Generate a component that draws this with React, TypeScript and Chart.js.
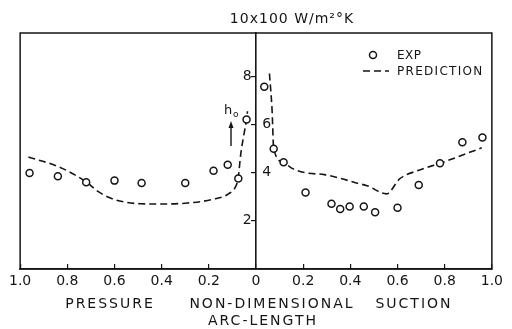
import React, { useEffect, useRef } from 'react';
import { Chart, registerables } from 'chart.js';

Chart.register(...registerables);

// Experimental points (negative x = pressure side, positive x = suction side)
const expX = [-0.96, -0.84, -0.72, -0.60, -0.485, -0.30, -0.18, -0.12, -0.075, -0.04,
  0.035, 0.075, 0.117, 0.21, 0.32, 0.357, 0.397, 0.457, 0.505, 0.60, 0.69, 0.78, 0.875, 0.96];
const expY = [3.99, 3.85, 3.60, 3.67, 3.57, 3.57, 4.08, 4.33, 3.76, 6.21,
  7.57, 4.99, 4.43, 3.18, 2.71, 2.49, 2.60, 2.60, 2.36, 2.54, 3.49, 4.39, 5.26, 5.46];

// Prediction, pressure side
const predPressureX = [-0.965, -0.84, -0.77, -0.72, -0.67, -0.61, -0.555, -0.49, -0.40, -0.29, -0.18, -0.115, -0.085, -0.076, -0.064, -0.05, -0.04, -0.036];
const predPressureY = [4.65, 4.26, 3.92, 3.62, 3.22, 2.92, 2.78, 2.71, 2.70, 2.74, 2.90, 3.13, 3.45, 3.76, 4.82, 5.65, 6.21, 6.55];

// Prediction, suction side
const predSuctionX = [0.057, 0.068, 0.075, 0.117, 0.151, 0.214, 0.29, 0.36, 0.43, 0.471, 0.553, 0.61, 0.69, 0.78, 0.957];
const predSuctionY = [8.12, 6.62, 4.99, 4.43, 4.19, 3.99, 3.92, 3.76, 3.56, 3.46, 3.12, 3.75, 4.10, 4.39, 5.03];

const yLabelsLeft = [8, 2];
const yLabelsRight = [6, 4];
const unitLabel = '10x100 W/m²°K';
const sideLabels = ['PRESSURE', 'NON-DIMENSIONAL', 'SUCTION'];
const axisLabelLine2 = 'ARC-LENGTH';
const legendLabels = ['EXP', 'PREDICTION'];
const annotationLabel = ['h', 'o'];

const INK = '#151515';
const FONT = "'DejaVu Sans', 'Liberation Sans', sans-serif";

const decorPlugin = {
  id: 'decor',
  afterDraw(chart: any) {
    const { ctx, chartArea: a, scales } = chart;
    const x0 = scales.x.getPixelForValue(0);
    ctx.save();
    ctx.strokeStyle = INK;
    ctx.fillStyle = INK;
    ctx.lineWidth = 1.5;
    ctx.setLineDash([]);
    ctx.strokeRect(a.left, a.top, a.right - a.left, a.bottom - a.top);

    ctx.textBaseline = 'middle';
    // unit label on top
    ctx.font = `14px ${FONT}`;
    (ctx as any).letterSpacing = '1px';
    ctx.textAlign = 'center';
    ctx.fillText(unitLabel, x0 + 36, 19);

    // bottom labels
    (ctx as any).letterSpacing = '2px';
    ctx.font = `14px ${FONT}`;
    ctx.fillText(sideLabels[0], 110, 304);
    ctx.fillText(sideLabels[1], x0 + 16, 304);
    ctx.fillText(sideLabels[2], 414, 304);
    ctx.fillText(axisLabelLine2, x0 + 7, 321);

    // legend
    const exp = chart.data.datasets[0];
    const pred = chart.data.datasets[1];
    ctx.textAlign = 'left';
    ctx.font = `12px ${FONT}`;
    (ctx as any).letterSpacing = '0.5px';
    ctx.beginPath();
    ctx.lineWidth = exp.pointBorderWidth;
    ctx.strokeStyle = exp.borderColor;
    ctx.arc(373, 55, exp.pointRadius, 0, Math.PI * 2);
    ctx.stroke();
    ctx.fillText(legendLabels[0], 397, 56);
    ctx.beginPath();
    ctx.lineWidth = pred.borderWidth;
    ctx.setLineDash(pred.borderDash);
    ctx.moveTo(363, 71);
    ctx.lineTo(389, 71);
    ctx.stroke();
    ctx.setLineDash([]);
    (ctx as any).letterSpacing = '1.3px';
    ctx.fillText(legendLabels[1], 397, 72);

    // h0 annotation with arrow
    (ctx as any).letterSpacing = '0px';
    ctx.font = `13px ${FONT}`;
    ctx.fillText(annotationLabel[0], 224, 111);
    ctx.font = `9px ${FONT}`;
    ctx.fillText(annotationLabel[1], 233, 115);
    ctx.lineWidth = 1.4;
    ctx.beginPath();
    ctx.moveTo(231, 146);
    ctx.lineTo(231, 126);
    ctx.stroke();
    ctx.beginPath();
    ctx.moveTo(231, 121);
    ctx.lineTo(228.5, 128);
    ctx.lineTo(233.5, 128);
    ctx.closePath();
    ctx.fill();
    ctx.restore();
  },
};

function fmtX(v: number) {
  const a = Math.abs(v);
  if (a < 1e-9) return '0';
  return a.toFixed(1);
}

export default function App() {
  const ref = useRef<HTMLCanvasElement | null>(null);
  useEffect(() => {
    if (!ref.current) return;
    Chart.defaults.font.family = FONT;
    Chart.defaults.color = INK;
    const lineStyle = {
      type: 'line' as const,
      showLine: true,
      pointRadius: 0,
      borderColor: INK,
      borderWidth: 1.6,
      borderDash: [7, 4],
      fill: false,
      cubicInterpolationMode: 'monotone' as const,
      order: 2,
    };
    const chart = new Chart(ref.current, {
      type: 'scatter',
      data: {
        datasets: [
          {
            label: legendLabels[0],
            data: expX.map((x, i) => ({ x, y: expY[i] })),
            showLine: false,
            pointStyle: 'circle',
            pointRadius: 3.5,
            pointBorderWidth: 1.5,
            borderColor: INK,
            pointBackgroundColor: '#ffffff',
            backgroundColor: '#ffffff',
            order: 0,
          } as any,
          {
            ...lineStyle,
            label: legendLabels[1],
            data: predPressureX.map((x, i) => ({ x, y: predPressureY[i] })),
          } as any,
          {
            ...lineStyle,
            label: legendLabels[1] + ' (suction)',
            data: predSuctionX.map((x, i) => ({ x, y: predSuctionY[i] })),
          } as any,
        ],
      },
      options: {
        animation: false,
        responsive: false,
        layout: { padding: { left: 17, right: 15, top: 33, bottom: 0 } },
        plugins: { legend: { display: false }, tooltip: { enabled: false } },
        scales: {
          x: {
            type: 'linear',
            position: 'bottom',
            min: -1,
            max: 1,
            afterFit: (s: any) => { s.height = 60; },
            ticks: {
              stepSize: 0.2,
              includeBounds: false,
              padding: 9,
              maxRotation: 0,
              autoSkip: false,
              font: { size: 14 },
              color: INK,
              callback: (v: any) => fmtX(Number(v)),
            },
            grid: { drawOnChartArea: false, drawTicks: true, tickLength: -5, color: INK, lineWidth: 1.2 },
            border: { display: true, color: INK, width: 1.5 },
          },
          y: {
            type: 'linear',
            position: { x: 0 } as any,
            min: 0,
            max: 9.8,
            afterFit: (s: any) => { s.width = 0; },
            ticks: {
              stepSize: 2,
              includeBounds: false,
              font: { size: 14 },
              color: INK,
              callback: (v: any) => (yLabelsLeft.includes(Number(v)) ? String(v) + ' ' : ''),
            },
            grid: { drawOnChartArea: false, drawTicks: true, tickLength: 4, color: INK, lineWidth: 1.2 },
            border: { display: true, color: INK, width: 1.6 },
          },
          y2: {
            type: 'linear',
            axis: 'y',
            position: { x: 0.064 } as any,
            min: 0,
            max: 9.8,
            afterFit: (s: any) => { s.width = 0; },
            ticks: {
              stepSize: 2,
              includeBounds: false,
              font: { size: 14 },
              color: INK,
              callback: (v: any) => (yLabelsRight.includes(Number(v)) ? String(v) : ''),
            },
            grid: { display: false },
            border: { display: false },
          },
        } as any,
      },
      plugins: [decorPlugin],
    });
    return () => chart.destroy();
  }, []);
  return (
    <div style={{ position: 'fixed', left: 0, top: 0, width: 512, height: 329, background: '#fff' }}>
      <canvas ref={ref} width={512} height={329} style={{ width: 512, height: 329, display: 'block' }} />
    </div>
  );
}
